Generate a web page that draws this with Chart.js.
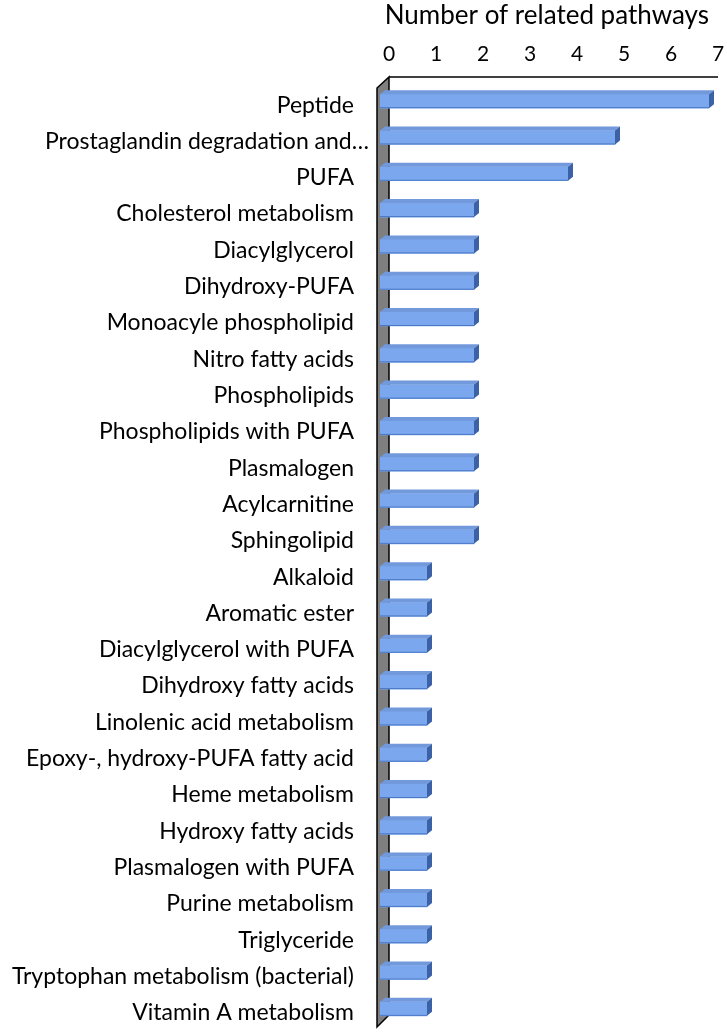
<!DOCTYPE html>
<html>
<head>
<meta charset="utf-8">
<script src="https://cdn.jsdelivr.net/npm/chart.js@4"></script>
<style>
  html, body { margin: 0; padding: 0; background: #fff; overflow: hidden; }
  canvas { display: block; }
</style>
</head>
<body>
<canvas id="pathwayChart" width="727" height="1034"></canvas>
<script>
// Metabolite classes and the number of related pathways
const categories = [
    'Peptide',
    'Prostaglandin degradation and\u2026',
    'PUFA',
    'Cholesterol metabolism',
    'Diacylglycerol',
    'Dihydroxy-PUFA',
    'Monoacyle phospholipid',
    'Nitro fatty acids',
    'Phospholipids',
    'Phospholipids with PUFA',
    'Plasmalogen',
    'Acylcarnitine',
    'Sphingolipid',
    'Alkaloid',
    'Aromatic ester',
    'Diacylglycerol with PUFA',
    'Dihydroxy fatty acids',
    'Linolenic acid metabolism',
    'Epoxy-, hydroxy-PUFA fatty acid',
    'Heme metabolism',
    'Hydroxy fatty acids',
    'Plasmalogen with PUFA',
    'Purine metabolism',
    'Triglyceride',
    'Tryptophan metabolism (bacterial)',
    'Vitamin A metabolism'
];
const pathwayCounts = [7, 5, 4, 2, 2, 2, 2, 2, 2, 2, 2, 2, 2, 1, 1, 1, 1, 1, 1, 1, 1, 1, 1, 1, 1, 1];
const tickValues = [0, 1, 2, 3, 4, 5, 6, 7];
const axisTitle = 'Number of related pathways';

const FONT = 'Lato, "Open Sans", sans-serif';
const DEPTH = 5;

// Draw the grey side wall and the top axis line (3D look)
const wallPlugin = {
    id: 'wall',
    beforeDraw(chart) {
        // the truncated label sits a bit further right, like in Excel
        const items = chart.scales.y.getLabelItems();
        if (items[1]) items[1].options.translation[0] += 15;
    },
    beforeDatasetsDraw(chart) {
        const { ctx, chartArea } = chart;
        const l = chartArea.left, t = chartArea.top, b = chartArea.bottom, r = chartArea.right;
        ctx.save();
        ctx.beginPath();
        ctx.moveTo(l - 3, t + 5);
        ctx.lineTo(l + 9, t - 6);
        ctx.lineTo(l + 9, b - 12);
        ctx.lineTo(l - 3, b);
        ctx.closePath();
        ctx.fillStyle = '#7f7f7f';
        ctx.fill();
        ctx.lineWidth = 1.5;
        ctx.strokeStyle = '#000';
        ctx.stroke();

        ctx.beginPath();
        ctx.moveTo(l + 9, t - 6);
        ctx.lineTo(r + 9, t - 6);
        ctx.lineWidth = 1.5;
        ctx.stroke();
        ctx.restore();
    }
};

// Top and side faces of each bar
const barFacesPlugin = {
    id: 'barFaces',
    afterDatasetsDraw(chart) {
        const { ctx } = chart;
        const meta = chart.getDatasetMeta(0);
        ctx.save();
        meta.data.forEach(bar => {
            const x0 = bar.base, x1 = bar.x;
            const yt = bar.y - bar.height / 2, yb = bar.y + bar.height / 2;
            // top face
            ctx.beginPath();
            ctx.moveTo(x0, yt);
            ctx.lineTo(x0 + DEPTH, yt - DEPTH + 1);
            ctx.lineTo(x1 + DEPTH, yt - DEPTH + 1);
            ctx.lineTo(x1, yt);
            ctx.closePath();
            ctx.fillStyle = '#7199dc';
            ctx.fill();
            // side face
            ctx.beginPath();
            ctx.moveTo(x1, yt);
            ctx.lineTo(x1 + DEPTH, yt - DEPTH + 1);
            ctx.lineTo(x1 + DEPTH, yb - DEPTH + 1);
            ctx.lineTo(x1, yb);
            ctx.closePath();
            ctx.fillStyle = '#3b62a6';
            ctx.fill();
            // darker lower edge of the front face
            ctx.beginPath();
            ctx.moveTo(x0, yb - 0.5);
            ctx.lineTo(x1, yb - 0.5);
            ctx.lineWidth = 1;
            ctx.strokeStyle = '#4a78c6';
            ctx.stroke();
        });
        ctx.restore();
    }
};

function frontGradient(context) {
    const chart = context.chart;
    const bar = context.element;
    if (!bar || bar.y === undefined || isNaN(bar.y)) return '#7aa7ee';
    const yt = bar.y - bar.height / 2, yb = bar.y + bar.height / 2;
    const g = chart.ctx.createLinearGradient(0, yt, 0, yb);
    g.addColorStop(0, '#a9c8f6');
    g.addColorStop(0.45, '#86b1f1');
    g.addColorStop(1, '#5688de');
    return g;
}

const ctx = document.getElementById('pathwayChart');
new Chart(ctx, {
    type: 'bar',
    data: {
        labels: categories,
        datasets: [{
            data: pathwayCounts,
            backgroundColor: frontGradient,
            borderWidth: 0,
            barThickness: 14
        }]
    },
    options: {
        indexAxis: 'y',
        responsive: false,
        animation: false,
        layout: { padding: { right: 18, bottom: 7, top: 0, left: 0 } },
        plugins: {
            legend: { display: false },
            tooltip: { enabled: false }
        },
        scales: {
            x: {
                position: 'top',
                min: 0,
                max: 7,
                afterBuildTicks: s => { s.ticks = tickValues.map(v => ({ value: v })); },
                afterFit: s => {
                    s.height = 83;
                    s.paddingLeft = 0;
                    s.paddingRight = 0;
                },
                grid: { display: false, drawTicks: false },
                border: { display: false },
                ticks: {
                    color: '#000',
                    font: { family: FONT, size: 21 },
                    padding: 16,
                    labelOffset: 9
                },
                title: {
                    display: true,
                    text: axisTitle,
                    align: 'end',
                    color: '#000',
                    font: { family: FONT, size: 26 },
                    padding: { top: 0, bottom: 0 }
                }
            },
            y: {
                afterFit: s => {
                    s.width = 380;
                    s.paddingTop = 0;
                    s.paddingBottom = 0;
                },
                grid: { display: false, drawTicks: false },
                border: { display: false },
                ticks: {
                    color: '#000',
                    font: { family: FONT, size: 23 },
                    padding: 26,
                    labelOffset: 4,
                    autoSkip: false
                }
            }
        }
    },
    plugins: [wallPlugin, barFacesPlugin]
});
</script>
</body>
</html>
